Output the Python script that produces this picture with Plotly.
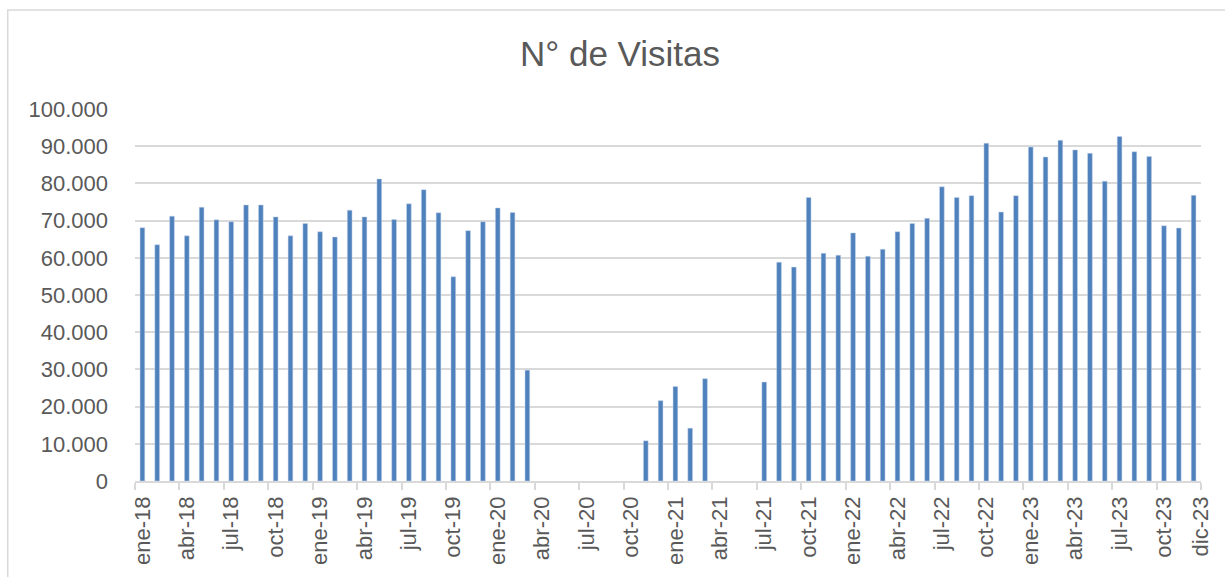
import plotly.graph_objects as go

months = ["ene", "feb", "mar", "abr", "may", "jun", "jul", "ago", "sep", "oct", "nov", "dic"]
years = ["18", "19", "20", "21", "22", "23"]
categories = [f"{m}-{y}" for y in years for m in months]

visitas = [
    # 2018
    68100, 63500, 71200, 65900, 73600, 70200, 69700, 74200, 74200, 71000, 65900, 69200,
    # 2019
    67000, 65600, 72800, 71000, 81200, 70300, 74500, 78300, 72100, 54900, 67300, 69700,
    # 2020
    73400, 72200, 29800, None, None, None, None, None, None, None, 10800, 21600,
    # 2021
    25400, 14200, 27500, None, None, None, 26600, 58800, 57500, 76200, 61200, 60700,
    # 2022
    66700, 60400, 62300, 67000, 69200, 70600, 79100, 76200, 76700, 90800, 72300, 76700,
    # 2023
    89800, 87100, 91600, 89000, 88100, 80600, 92600, 88500, 87200, 68600, 68000, 76800,
]

tick_labels = [categories[i] for i in range(0, 72, 3)] + ["dic-23"]
y_ticks = list(range(0, 100001, 10000))

x_idx = list(range(len(categories)))
tick_pos = list(range(0, 72, 3)) + [71.5]

fig = go.Figure()
fig.add_trace(go.Bar(
    x=x_idx, y=visitas, width=0.32,
    marker=dict(color="#4F81BD", line=dict(color="#C9D6EA", width=0.5)),
    customdata=categories,
    hovertemplate="%{customdata}: %{y:,.0f}<extra></extra>",
))

grey = "#595959"
font_family = "Liberation Sans, Arial, sans-serif"

fig.update_layout(
    width=1225, height=577,
    margin=dict(l=135, r=18, t=109, b=96),
    paper_bgcolor="white", plot_bgcolor="white",
    separators=",.",
    showlegend=False,
    title=dict(text="N° de Visitas", x=620 / 1225, xanchor="center",
               y=1 - 54 / 577, yanchor="middle", xref="container", yref="container",
               font=dict(family=font_family, size=35, color=grey)),
    font=dict(family=font_family, color=grey),
)
fig.update_xaxes(
    range=[-0.5, 71.5],
    tickmode="array", tickvals=tick_pos, ticktext=tick_labels,
    tickangle=-90, tickfont=dict(size=22, color=grey),
    ticks="", showgrid=False,
    showline=True, linecolor="#D9D9D9", linewidth=1.5,
    ticklabelstandoff=5,
    minor=dict(tickmode="linear", tick0=-0.5, dtick=3, ticks="outside",
               ticklen=7, tickcolor="#D9D9D9", tickwidth=1.5, showgrid=False),
)
fig.update_yaxes(
    range=[0, 100000],
    tickmode="array", tickvals=y_ticks,
    tickformat=",d",
    tickfont=dict(size=22, color=grey),
    showgrid=True, gridcolor="#D9D9D9", gridwidth=1.5,
    zeroline=False, showline=False, ticks="",
    ticklabelstandoff=26,
)
fig.add_shape(type="rect", xref="paper", yref="paper",
              x0=(7 - 135) / 1072, x1=(1240 - 135) / 1072,
              y0=(481 - 600) / 372, y1=(481 - 10) / 372,
              line=dict(color="#D9D9D9", width=1.5), fillcolor="rgba(0,0,0,0)", layer="below")

fig.write_html("out.html", config={"displayModeBar": False},
               post_script="document.body.style.margin='0';document.body.style.overflow='hidden';")
